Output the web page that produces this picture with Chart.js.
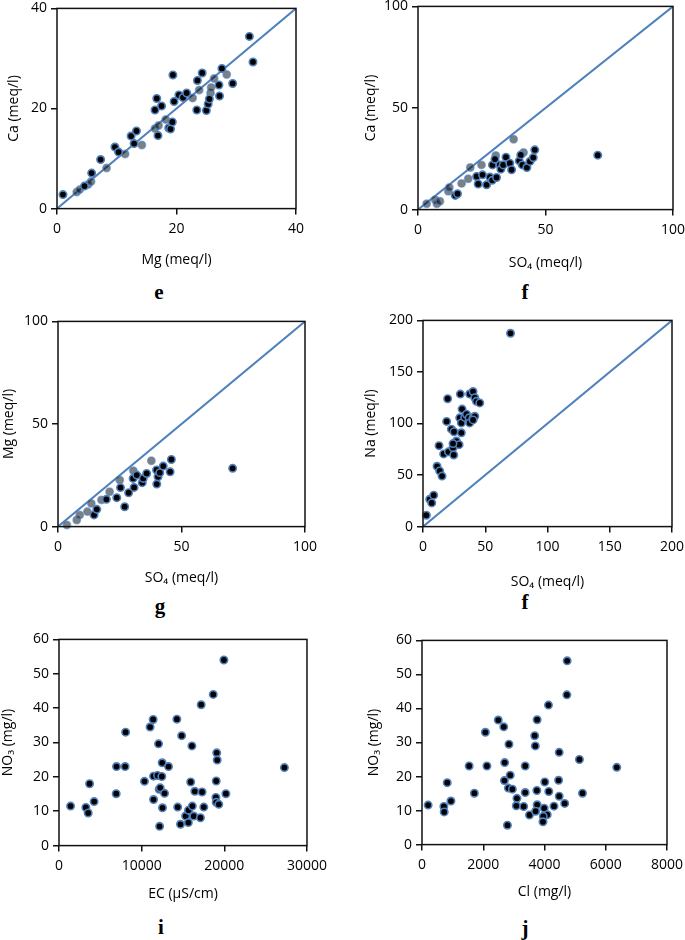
<!DOCTYPE html>
<html><head><meta charset="utf-8">
<script src="https://cdn.jsdelivr.net/npm/chart.js@4"></script>
<style>
html,body{margin:0;padding:0;background:#fff;width:685px;height:940px;overflow:hidden;position:relative}
canvas{position:absolute}
.lbl{position:absolute;font:bold 21px "Liberation Serif",serif;line-height:21px;width:40px;text-align:center;color:#000}
</style></head><body>
<canvas id="cE"></canvas><canvas id="cF"></canvas><canvas id="cG"></canvas>
<canvas id="cH"></canvas><canvas id="cI"></canvas><canvas id="cJ"></canvas>
<div class="lbl" style="left:139px;top:282px">e</div>
<div class="lbl" style="left:505px;top:282px">f</div>
<div class="lbl" style="left:140px;top:596px">g</div>
<div class="lbl" style="left:505px;top:592px">f</div>
<div class="lbl" style="left:141px;top:917px">i</div>
<div class="lbl" style="left:505px;top:918px">j</div>
<script>
// ---- e: Mg vs Ca (meq/l)
const eMgBlack = [1.0,4.6,5.8,7.3,9.7,10.3,12.4,13.3,12.9,16.4,16.7,17.5,16.9,18.7,19.0,19.3,19.4,19.6,20.4,21.1,21.7,23.4,23.5,24.3,25.0,25.3,25.5,27.1,27.2,27.6,29.4,32.2,32.8];
const eCaBlack = [2.8,4.5,7.1,9.8,12.3,11.3,14.5,15.5,13.0,19.7,22.0,20.5,14.6,16.1,15.9,17.3,26.7,21.4,22.7,22.2,23.1,19.7,25.6,27.1,19.6,20.9,21.9,24.7,22.5,28.0,25.0,34.4,29.3];
const eMgGrey = [3.3,3.8,5.2,5.7,8.3,11.4,14.2,16.4,17.0,18.2,22.7,23.8,25.7,25.8,26.3,28.4];
const eCaGrey = [3.3,3.8,4.8,5.4,8.1,10.9,12.7,16.0,16.6,17.8,22.1,23.7,23.1,24.2,26.0,26.8];
// ---- f: SO4 vs Ca (meq/l)
const fSO4Black = [14.6,15.5,23.0,23.6,25.3,26.9,28.2,29.1,29.2,30.2,30.8,32.1,32.5,33.4,34.5,36.0,36.7,39.7,40.3,40.9,42.7,43.9,45.2,45.8,70.5];
const fCaBlack = [7.0,7.8,16.3,12.6,17.1,12.2,16.0,14.4,22.0,24.8,15.8,22.0,19.9,22.0,25.8,22.8,19.6,24.0,26.9,22.0,20.7,23.7,25.6,29.4,26.8];
const fSO4Grey = [3.4,6.7,7.4,8.6,11.9,12.3,17.1,19.7,20.5,24.9,30.5,37.5,41.4];
const fCaGrey = [2.9,4.9,2.9,4.1,9.0,10.9,12.9,15.2,20.7,22.0,26.6,34.6,28.1];
// ---- g: SO4 vs Mg (meq/l)
const gSO4Black = [14.6,15.7,19.6,23.8,25.3,27.0,28.6,30.8,30.4,31.9,34.1,34.5,35.9,40.0,40.5,39.9,41.2,42.6,45.4,45.9,70.7];
const gMgBlack = [5.7,8.4,13.3,14.1,19.0,9.7,16.5,19.1,23.5,25.1,21.4,23.5,25.9,20.7,24.3,27.6,26.3,29.5,26.7,32.7,28.4];
const gSO4Grey = [3.6,7.6,8.8,11.9,13.5,17.6,20.9,25.0,30.5,37.8];
const gMgGrey = [0.8,3.2,5.7,7.3,11.3,13.0,17.0,22.7,27.2,32.1];
// ---- second f: SO4 vs Na (meq/l)
const hSO4 = [2.7,5.4,7.0,8.6,11.3,13.4,15.3,12.9,16.6,19.8,19.0,20.4,22.8,24.1,24.7,24.9,26.8,29.0,24.1,30.0,30.8,31.4,29.5,30.8,33.5,34.9,37.0,37.5,40.2,41.6,42.9,45.6,40.2,41.6,37.5,40.2,70.3];
const hNa = [11,26.5,23,30.5,58.5,54,49,78.5,70.5,124,102,72.5,94.5,76.5,69.5,92,83,79.5,80.5,128.5,91,114,105.5,100.6,106,109,105.5,128.6,131,125,121.5,120,105.5,107,100.6,103.5,187.5];
// ---- i: EC (µS/cm) vs NO3 (mg/l)
const iEC = [1400,3250,3530,3700,4250,6920,6960,8000,8060,10340,11020,11390,11440,11440,11920,12040,12120,12240,12170,12440,12480,12520,12770,13250,14260,14360,14700,14840,15320,15670,15650,15930,16080,16130,16300,16430,17110,17200,17310,17520,18660,19080,19140,19020,18980,19020,19330,19950,20190,27270];
const iNO3 = [11.5,11.1,9.5,18.0,12.8,15.1,23.0,23.0,33.0,18.7,34.5,36.7,20.2,13.4,20.4,29.6,16.4,16.8,5.6,20.1,24.1,11.0,15.2,23.0,36.8,11.2,6.2,32.0,8.6,10.3,6.7,18.5,29.0,11.5,8.6,15.8,8.1,41.0,15.6,11.2,44.0,27.0,24.9,18.8,14.0,12.6,12.0,54.0,15.1,22.7];
// ---- j: Cl (mg/l) vs NO3 (mg/l)
const jCl = [200,714,725,824,945,1540,1710,2070,2120,2490,2670,2700,2690,2840,2880,2820,2950,2790,3100,3080,3320,3370,3370,3510,3680,3700,3760,3750,3760,3710,4010,3990,4090,3960,3950,4140,4130,4310,4460,4480,4480,4660,4730,4740,5140,5240,6360];
const jNO3 = [11.6,11.2,9.6,18.2,12.8,23.1,15.1,33.0,23.1,36.6,34.6,24.1,18.8,29.5,20.4,16.6,16.3,5.7,13.6,11.4,11.2,15.3,23.1,8.7,32.0,29.0,36.7,15.9,11.7,9.8,18.4,10.7,8.8,8.3,6.7,15.6,41.0,11.3,18.9,27.1,14.2,12.1,44.0,54.0,25.0,15.1,22.7];
// ---- axes: [min, max, step]
const eAxis = [0, 40, 20];
const fAxis = [0, 100, 50];
const hAxis = [0, 200, 50];
const iX = [0, 30000, 10000];
const jX = [0, 8000, 2000];
const nitY = [0, 60, 10];

const FONT = '"Open Sans", "DejaVu Sans", sans-serif';
const FS = 14;
const BLUE = '#4f81bd';

const pts = (xs, ys) => xs.map((x, k) => ({x, y: ys[k]}));

const framePlugin = {
  id: 'frame',
  afterDatasetsDraw(chart) {
    const {ctx, chartArea: a} = chart;
    ctx.save();
    ctx.strokeStyle = '#111';
    ctx.lineWidth = 1.5;
    ctx.strokeRect(a.left, a.top, a.right - a.left, a.bottom - a.top);
    ctx.restore();
  }
};

function axis(range, title, fitFn) {
  return {
    type: 'linear', min: range[0], max: range[1],
    ticks: {stepSize: range[2], autoSkip: false, maxRotation: 0, color: '#000',
      font: {family: FONT, size: FS}, padding: 4, callback: v => String(v)},
    grid: {drawOnChartArea: false, drawTicks: true, tickLength: 6, color: '#111', lineWidth: 1.5},
    border: {display: false},
    title: {display: true, text: title, color: '#000', font: {family: FONT, size: FS}, padding: 0},
    afterFit: fitFn
  };
}

function build(id, box, xr, yr, xTitle, yTitle, datasets) {
  const lh = FS * 1.2;
  const padTop = 12, padRight = 26;
  const left = Math.round(box.L - box.yOff - lh / 2);
  const top = box.T - padTop;
  const Yw = box.L - left;
  const Xh = box.xOff + lh / 2;
  const w = Math.round(Yw + (box.R - box.L) + padRight);
  const h = Math.round(padTop + (box.B - box.T) + Xh);
  const cv = document.getElementById(id);
  cv.width = w; cv.height = h;
  cv.style.left = left + 'px'; cv.style.top = top + 'px';
  cv.style.width = w + 'px'; cv.style.height = h + 'px';
  const xa = axis(xr, xTitle, s => { s.height = Xh; });
  xa.ticks.padding = 6;
  const ya = axis(yr, yTitle, s => { s.width = Yw; });
  new Chart(cv, {
    type: 'scatter',
    data: {datasets},
    options: {
      responsive: false, animation: false, devicePixelRatio: 1,
      layout: {padding: {top: padTop, right: padRight, left: 0, bottom: 0}},
      plugins: {legend: {display: false}, tooltip: {enabled: false}},
      scales: {x: xa, y: ya}
    },
    plugins: [framePlugin]
  });
}

function black(xs, ys) {
  return {data: pts(xs, ys), backgroundColor: '#000', borderColor: BLUE, borderWidth: 1.6, pointRadius: 3.7, clip: false, order: 0};
}
function grey(xs, ys) {
  return {data: pts(xs, ys), backgroundColor: 'rgba(0,0,0,0.5)', borderColor: 'rgba(79,129,189,0.6)', borderWidth: 1.6, pointRadius: 3.7, clip: false, order: 1};
}
function oneToOne(r) {
  return {data: [{x: r[0], y: r[0]}, {x: r[1], y: r[1]}], showLine: true, pointRadius: 0, borderColor: BLUE, borderWidth: 2, order: 2};
}

build('cE', {L:57,T:8,R:296,B:209,yOff:43,xOff:51}, eAxis, eAxis, 'Mg (meq/l)', 'Ca (meq/l)',
  [black(eMgBlack, eCaBlack), grey(eMgGrey, eCaGrey), oneToOne(eAxis)]);
build('cF', {L:418,T:6,R:673,B:210,yOff:47,xOff:53}, fAxis, fAxis, 'SO\u2084 (meq/l)', 'Ca (meq/l)',
  [black(fSO4Black, fCaBlack), grey(fSO4Grey, fCaGrey), oneToOne(fAxis)]);
build('cG', {L:58,T:321,R:305,B:527,yOff:49,xOff:51}, fAxis, fAxis, 'SO\u2084 (meq/l)', 'Mg (meq/l)',
  [black(gSO4Black, gMgBlack), grey(gSO4Grey, gMgGrey), oneToOne(fAxis)]);
build('cH', {L:423,T:320,R:672,B:527,yOff:52,xOff:55}, hAxis, hAxis, 'SO\u2084 (meq/l)', 'Na (meq/l)',
  [black(hSO4, hNa), oneToOne(hAxis)]);
build('cI', {L:59,T:639,R:307,B:846,yOff:51,xOff:48}, iX, nitY, 'EC (\u00b5S/cm)', 'NO\u2083 (mg/l)',
  [black(iEC, iNO3)]);
build('cJ', {L:422,T:640,R:667,B:845,yOff:48,xOff:47}, jX, nitY, 'Cl (mg/l)', 'NO\u2083 (mg/l)',
  [black(jCl, jNO3)]);
</script>
</body></html>
